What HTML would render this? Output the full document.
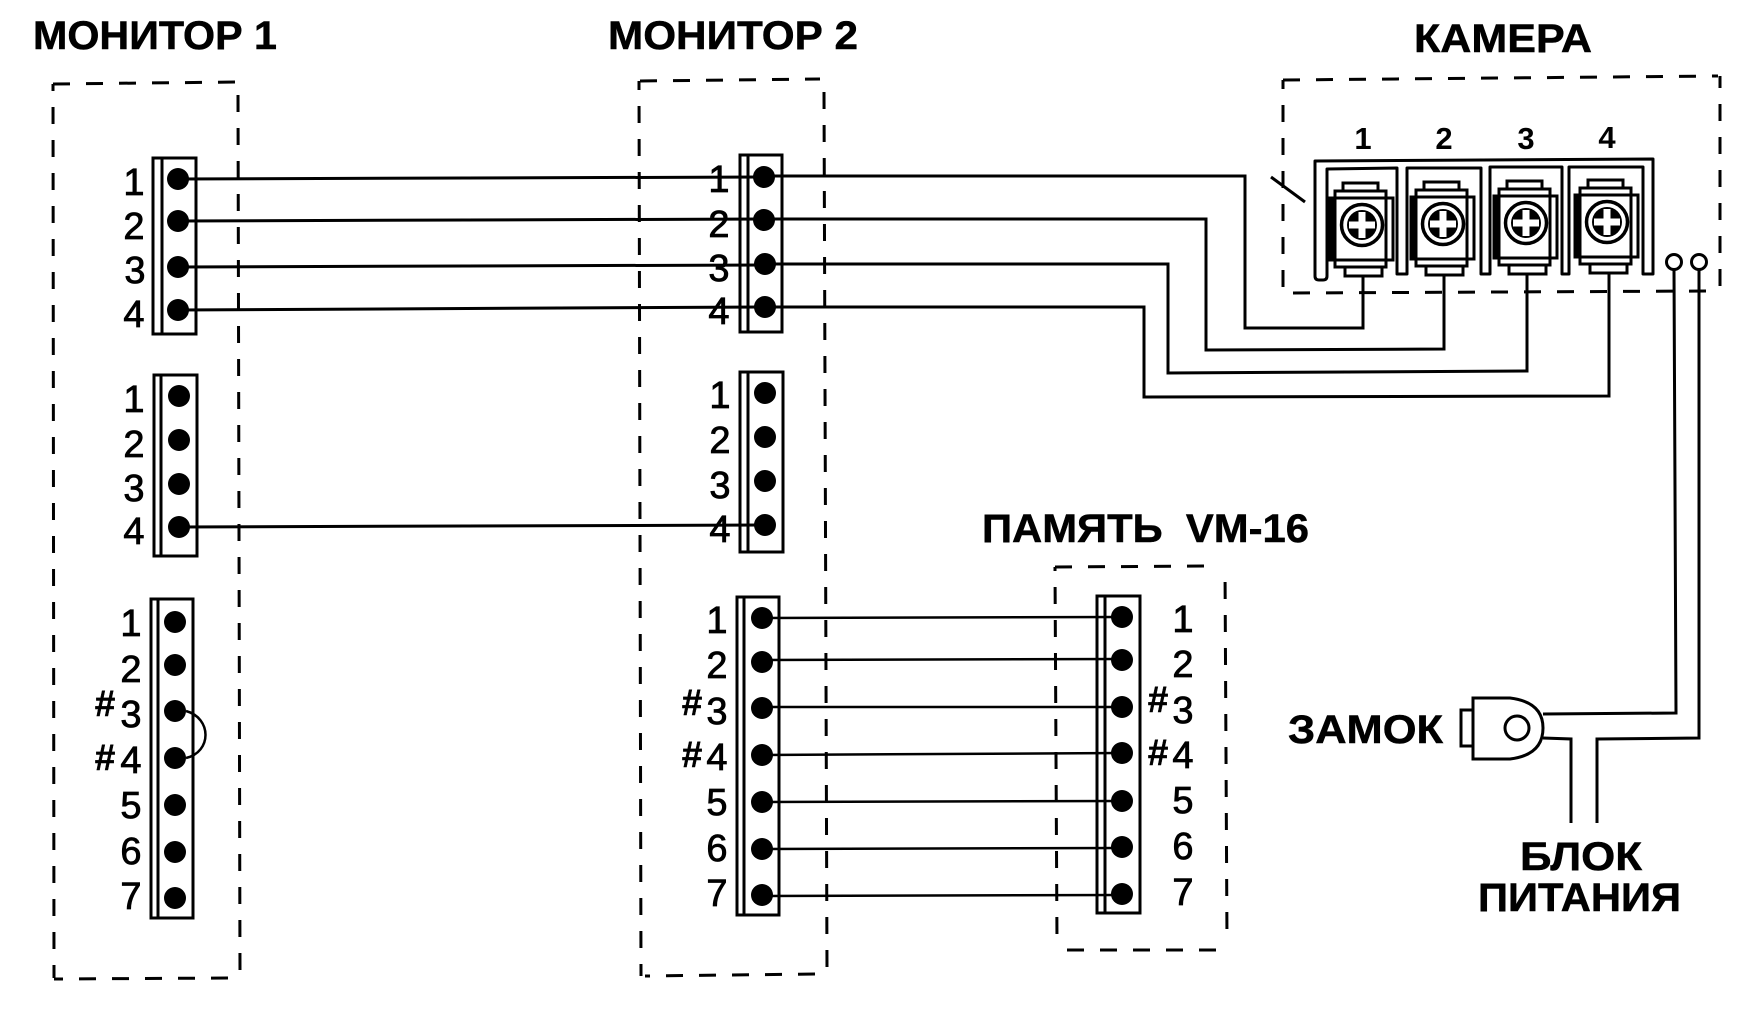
<!DOCTYPE html>
<html><head><meta charset="utf-8"><style>
html,body{margin:0;padding:0;background:#fff}
svg{display:block}
text{font-family:"Liberation Sans",sans-serif;fill:#000}
.t{font-weight:bold;font-size:40px;stroke:#000;stroke-width:.5}
.n{font-size:38px;text-anchor:middle;stroke:#000;stroke-width:.8}
.h{font-size:37px;font-weight:bold;text-anchor:middle;stroke:#000;stroke-width:.4}
.c{font-size:31px;font-weight:bold;text-anchor:middle}
.d{fill:none;stroke:#000;stroke-width:3;stroke-dasharray:17 16}
.w{fill:none;stroke:#000;stroke-width:3}
.m{fill:none;stroke:#000;stroke-width:2.5}
.r{fill:#fff;stroke:#000;stroke-width:3}
</style></head><body>
<svg width="1760" height="1020" viewBox="0 0 1760 1020" xmlns="http://www.w3.org/2000/svg">
<defs>
<g id="screw">
<rect class="r" x="-19" y="-42" width="35" height="8"/>
<rect class="r" x="-17" y="42" width="37" height="9"/>
<rect class="r" x="-32" y="-27" width="63" height="62"/>
<rect x="-32" y="-27" width="5" height="62" fill="#000"/>
<rect class="r" x="-27" y="-34" width="51" height="76"/>
<line class="w" x1="-27" y1="-27" x2="24" y2="-27"/>
<line class="w" x1="-27" y1="35" x2="24" y2="35"/>
<circle r="20.5" fill="#fff" stroke="#000" stroke-width="3.5"/>
<circle r="15" fill="#000"/>
<rect x="-3.5" y="-13" width="7" height="26" fill="#fff"/>
<rect x="-13" y="-3.5" width="26" height="7" fill="#fff"/>
</g>
</defs>
<rect width="1760" height="1020" fill="#fff"/>

<!-- titles -->
<text class="t" x="33" y="49" textLength="244" lengthAdjust="spacingAndGlyphs">МОНИТОР 1</text>
<text class="t" x="608" y="49" textLength="250" lengthAdjust="spacingAndGlyphs">МОНИТОР 2</text>
<text class="t" x="1414" y="52" textLength="178" lengthAdjust="spacingAndGlyphs">КАМЕРА</text>
<text class="t" x="982" y="542" textLength="327" lengthAdjust="spacingAndGlyphs">ПАМЯТЬ&#160;&#160;VM-16</text>
<text class="t" x="1288" y="743" textLength="155" lengthAdjust="spacingAndGlyphs">ЗАМОК</text>
<text class="t" x="1520" y="870" textLength="122" lengthAdjust="spacingAndGlyphs">БЛОК</text>
<text class="t" x="1478" y="911" textLength="203" lengthAdjust="spacingAndGlyphs">ПИТАНИЯ</text>

<!-- dashed boxes -->
<g class="d">
<line x1="53" y1="84" x2="237" y2="82"/>
<line x1="53" y1="84" x2="54" y2="978" stroke-dashoffset="10"/>
<line x1="238" y1="95" x2="240" y2="975"/>
<line x1="228" y1="978" x2="54" y2="979"/>
<line x1="640" y1="81" x2="820" y2="79"/>
<line x1="639" y1="81" x2="641" y2="976" stroke-dashoffset="8"/>
<line x1="824" y1="92" x2="827" y2="970"/>
<line x1="815" y1="974" x2="645" y2="976"/>
<line x1="1055" y1="567" x2="1210" y2="566"/>
<line x1="1055" y1="567" x2="1057" y2="943" stroke-dashoffset="13"/>
<line x1="1225" y1="566" x2="1227" y2="942" stroke-dashoffset="17"/>
<line x1="1067" y1="950" x2="1220" y2="950"/>
<line x1="1283" y1="80" x2="1718" y2="76"/>
<line x1="1283" y1="80" x2="1283" y2="287" stroke-dashoffset="8"/>
<line x1="1720" y1="76" x2="1720" y2="287" stroke-dashoffset="5"/>
<line x1="1293" y1="293" x2="1708" y2="291"/>
</g>

<!-- connector strips -->
<g class="r">
<rect x="153" y="158" width="43" height="176"/>
<rect x="154" y="375" width="43" height="181"/>
<rect x="151" y="599" width="42" height="319"/>
<rect x="740" y="155" width="42" height="177"/>
<rect x="740" y="372" width="43" height="180"/>
<rect x="737" y="597" width="42" height="318"/>
<rect x="1097" y="596" width="43" height="317"/>
</g>
<g class="w">
<line x1="162" y1="158" x2="162" y2="334"/>
<line x1="161" y1="375" x2="161" y2="556"/>
<line x1="158" y1="599" x2="158" y2="918"/>
<line x1="748" y1="155" x2="748" y2="332"/>
<line x1="748" y1="372" x2="748" y2="552"/>
<line x1="744" y1="597" x2="744" y2="915"/>
<line x1="1105" y1="596" x2="1105" y2="913"/>
</g>

<!-- wires -->
<g class="w">
<line x1="178" y1="179" x2="764" y2="177"/>
<line x1="178" y1="221" x2="764" y2="219"/>
<line x1="178" y1="267" x2="764" y2="265"/>
<line x1="178" y1="310" x2="764" y2="307"/>
<line x1="179" y1="527" x2="765" y2="525"/>
<polyline points="764,176 1245,176 1245,328 1363,328 1363,277"/>
<polyline points="764,219 1206,219 1206,350 1444,349 1444,277"/>
<polyline points="764,264 1168,264 1168,373 1527,371 1527,277"/>
<polyline points="764,307 1144,307 1144,397 1609,396 1609,277"/>
<path d="M186 711 C212 718 212 752 186 758" stroke-width="2.5"/>
<line x1="1271" y1="177" x2="1305" y2="202"/>
<polyline points="1674,270 1676,713 1543,714"/>
<polyline points="1699,270 1699,738 1597,739 1597,823"/>
<polyline points="1543,738 1571,739 1571,823"/>
</g>
<g class="m">
<line x1="762" y1="618" x2="1122" y2="617"/>
<line x1="762" y1="660" x2="1122" y2="659"/>
<line x1="762" y1="707" x2="1122" y2="707"/>
<line x1="762" y1="755" x2="1122" y2="753"/>
<line x1="762" y1="802" x2="1122" y2="801"/>
<line x1="762" y1="849" x2="1122" y2="848"/>
<line x1="762" y1="896" x2="1122" y2="895"/>
</g>

<!-- dots -->
<g fill="#000">
<circle cx="178" cy="179" r="11"/><circle cx="178" cy="221" r="11"/><circle cx="178" cy="267" r="11"/><circle cx="178" cy="310" r="11"/>
<circle cx="179" cy="396" r="11"/><circle cx="179" cy="440" r="11"/><circle cx="179" cy="484" r="11"/><circle cx="179" cy="527" r="11"/>
<circle cx="175" cy="622" r="11"/><circle cx="175" cy="665" r="11"/><circle cx="175" cy="711" r="11"/><circle cx="175" cy="758" r="11"/><circle cx="175" cy="805" r="11"/><circle cx="175" cy="852" r="11"/><circle cx="175" cy="898" r="11"/>
<circle cx="764" cy="177" r="11"/><circle cx="764" cy="220" r="11"/><circle cx="765" cy="264" r="11"/><circle cx="765" cy="307" r="11"/>
<circle cx="765" cy="393" r="11"/><circle cx="765" cy="437" r="11"/><circle cx="765" cy="481" r="11"/><circle cx="765" cy="525" r="11"/>
<circle cx="762" cy="618" r="11"/><circle cx="762" cy="662" r="11"/><circle cx="762" cy="708" r="11"/><circle cx="762" cy="755" r="11"/><circle cx="762" cy="802" r="11"/><circle cx="762" cy="849" r="11"/><circle cx="762" cy="895" r="11"/>
<circle cx="1122" cy="617" r="11"/><circle cx="1122" cy="660" r="11"/><circle cx="1122" cy="707" r="11"/><circle cx="1122" cy="753" r="11"/><circle cx="1122" cy="801" r="11"/><circle cx="1122" cy="847" r="11"/><circle cx="1122" cy="894" r="11"/>
</g>

<!-- numbers -->
<text class="n" x="134" y="195">1</text><text class="n" x="134" y="239">2</text><text class="n" x="135" y="283">3</text><text class="n" x="134" y="327">4</text>
<text class="n" x="134" y="412">1</text><text class="n" x="134" y="457">2</text><text class="n" x="134" y="501">3</text><text class="n" x="134" y="544">4</text>
<text class="n" x="131" y="636">1</text><text class="n" x="131" y="682">2</text><text class="n" x="131" y="727">3</text><text class="n" x="131" y="773">4</text><text class="n" x="131" y="818">5</text><text class="n" x="131" y="864">6</text><text class="n" x="131" y="909">7</text>
<text class="n" x="719" y="192">1</text><text class="n" x="719" y="237">2</text><text class="n" x="719" y="281">3</text><text class="n" x="719" y="324">4</text>
<text class="n" x="720" y="408">1</text><text class="n" x="720" y="453">2</text><text class="n" x="720" y="498">3</text><text class="n" x="720" y="542">4</text>
<text class="n" x="717" y="633">1</text><text class="n" x="717" y="678">2</text><text class="n" x="717" y="724">3</text><text class="n" x="717" y="770">4</text><text class="n" x="717" y="815">5</text><text class="n" x="717" y="861">6</text><text class="n" x="717" y="906">7</text>
<text class="n" x="1183" y="632">1</text><text class="n" x="1183" y="677">2</text><text class="n" x="1183" y="723">3</text><text class="n" x="1183" y="768">4</text><text class="n" x="1183" y="813">5</text><text class="n" x="1183" y="859">6</text><text class="n" x="1183" y="905">7</text>
<text class="h" x="105" y="716">#</text><text class="h" x="105" y="770">#</text>
<text class="h" x="692" y="715">#</text><text class="h" x="692" y="767">#</text>
<text class="h" x="1158" y="712">#</text><text class="h" x="1158" y="765">#</text>
<text class="c" x="1363" y="149">1</text><text class="c" x="1444" y="149">2</text><text class="c" x="1526" y="149">3</text><text class="c" x="1607" y="148">4</text>

<!-- camera terminal -->
<path class="w" stroke-linejoin="round" d="M1315 161 L1315 276 Q1315 280 1319 280 L1323 280 Q1327 280 1327 276 L1327 169 L1397 168 L1397 274 L1407 274 L1407 168 L1481 168 L1481 274 L1490 274 L1490 167 L1562 167 L1562 274 L1569 274 L1569 167 L1643 167 L1643 274 L1653 274 L1653 159 Z"/>
<use href="#screw" x="1362" y="225"/>
<use href="#screw" x="1443" y="224"/>
<use href="#screw" x="1526" y="223"/>
<use href="#screw" x="1607" y="222"/>
<g class="w"><line x1="1363" y1="277" x2="1363" y2="300"/><line x1="1444" y1="276" x2="1444" y2="300"/><line x1="1527" y1="275" x2="1527" y2="300"/><line x1="1609" y1="274" x2="1609" y2="300"/></g>
<circle class="r" cx="1674" cy="262" r="7.5"/>
<circle class="r" cx="1699" cy="262" r="7.5"/>

<!-- lock -->
<rect class="w" x="1461" y="710" width="12" height="36"/>
<path class="r" d="M1473 698 L1510 698 Q1543 702 1543 728 Q1543 755 1510 759 L1473 759 Z"/>
<circle class="w" cx="1517" cy="728" r="12"/>
</svg>
</body></html>
